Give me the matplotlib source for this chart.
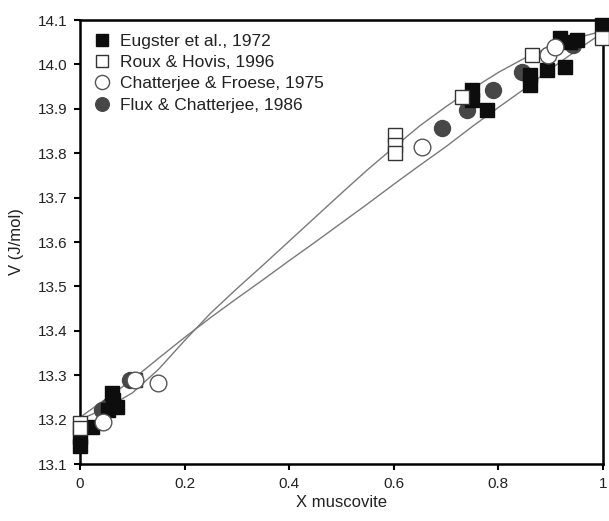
import matplotlib
matplotlib.use("Agg")
import matplotlib.pyplot as plt

plt.rcParams['font.family'] = ['Liberation Sans', 'DejaVu Sans']

# Data
eug_x = [0.0, 0.0, 0.023, 0.054, 0.061, 0.063, 0.07, 0.749, 0.749, 0.778, 0.86, 0.86, 0.893, 0.927, 0.918, 0.937, 0.95, 0.998]
eug_v = [13.14, 13.16, 13.183, 13.222, 13.26, 13.244, 13.228, 13.942, 13.92, 13.897, 13.976, 13.954, 13.987, 13.994, 14.06, 14.05, 14.055, 14.089]

roux_x = [0.0, 0.0, 0.105, 0.602, 0.602, 0.602, 0.73, 0.864, 0.998]
roux_v = [13.192, 13.181, 13.29, 13.84, 13.818, 13.80, 13.927, 14.021, 14.06]

chat_x = [0.044, 0.149, 0.105, 0.654, 0.895, 0.908]
chat_v = [13.195, 13.282, 13.29, 13.814, 14.021, 14.04]

flux_x = [0.042, 0.055, 0.095, 0.692, 0.74, 0.79, 0.845, 0.943]
flux_v = [13.222, 13.23, 13.29, 13.857, 13.897, 13.942, 13.983, 14.044]

# Fitted model curves
curve_x = [0.0, 0.05, 0.1, 0.15, 0.2, 0.25, 0.3, 0.35, 0.4, 0.45, 0.5,
           0.55, 0.6, 0.65, 0.7, 0.75, 0.8, 0.85, 0.9, 0.95, 1.0]
curve_c = [13.200, 13.226, 13.260, 13.313, 13.378, 13.440, 13.495, 13.548, 13.602, 13.656, 13.710,
           13.763, 13.813, 13.862, 13.905, 13.945, 13.982, 14.014, 14.040, 14.060, 14.075]
curve_s = [13.205, 13.247, 13.290, 13.338, 13.385, 13.430, 13.473, 13.515, 13.558, 13.600, 13.643,
           13.686, 13.730, 13.773, 13.815, 13.860, 13.903, 13.945, 13.990, 14.032, 14.072]

xticks = [0, 0.2, 0.4, 0.6, 0.8, 1]
xticklabels = ['0', '0.2', '0.4', '0.6', '0.8', '1']
yticks = [13.1, 13.2, 13.3, 13.4, 13.5, 13.6, 13.7, 13.8, 13.9, 14.0, 14.1]

fig = plt.figure(figsize=(6.09, 5.21), dpi=100)
ax = fig.add_axes([80/609, 1-464/521, (603-80)/609, (464-20)/521])

ax.plot(curve_x, curve_c, color='#7a7a7a', lw=1.0, zorder=1)
ax.plot(curve_x, curve_s, color='#7a7a7a', lw=1.0, zorder=1)

ax.plot(flux_x, flux_v, 'o', ms=11.5, mfc='#474747', mec='#474747', ls='none',
        label='Flux & Chatterjee, 1986', zorder=3, clip_on=False)
ax.plot(eug_x, eug_v, 's', ms=9.5, mfc='#0d0d0d', mec='#0d0d0d', ls='none',
        label='Eugster et al., 1972', zorder=4, clip_on=False)
ax.plot(roux_x, roux_v, 's', ms=9.5, mfc='white', mec='#333333', mew=1.0, ls='none',
        label='Roux & Hovis, 1996', zorder=5, clip_on=False)
ax.plot(chat_x, chat_v, 'o', ms=12, mfc='white', mec='#555555', mew=1.0, ls='none',
        label='Chatterjee & Froese, 1975', zorder=6, clip_on=False)

ax.set_xlim(0, 1)
ax.set_ylim(13.1, 14.1)
ax.set_xticks(xticks)
ax.set_xticklabels(xticklabels)
ax.set_yticks(yticks)
ax.set_yticklabels([f'{t:.1f}' for t in yticks])

for side in ['left', 'right', 'top', 'bottom']:
    ax.spines[side].set_linewidth(1.8)
    ax.spines[side].set_color('black')
    ax.spines[side].set_zorder(2)
ax.tick_params(axis='both', direction='out', length=4, width=1.5, labelsize=11,
               labelcolor='#222222', pad=5)
ax.set_xlabel('X muscovite', fontsize=12, color='#222222', labelpad=3)
ax.set_ylabel('V (J/mol)', fontsize=12, color='#222222', labelpad=10)

handles, labels = ax.get_legend_handles_labels()
order = [1, 2, 3, 0]
leg = ax.legend([handles[i] for i in order], [labels[i] for i in order],
                loc='upper left', bbox_to_anchor=(0.0, 1.0), frameon=False,
                fontsize=12.5, handlelength=0.9, handletextpad=0.6,
                labelspacing=0.35, borderaxespad=0.4, markerscale=0.85)
for t in leg.get_texts():
    t.set_color('#222222')

fig.savefig('out.png', dpi=100)
